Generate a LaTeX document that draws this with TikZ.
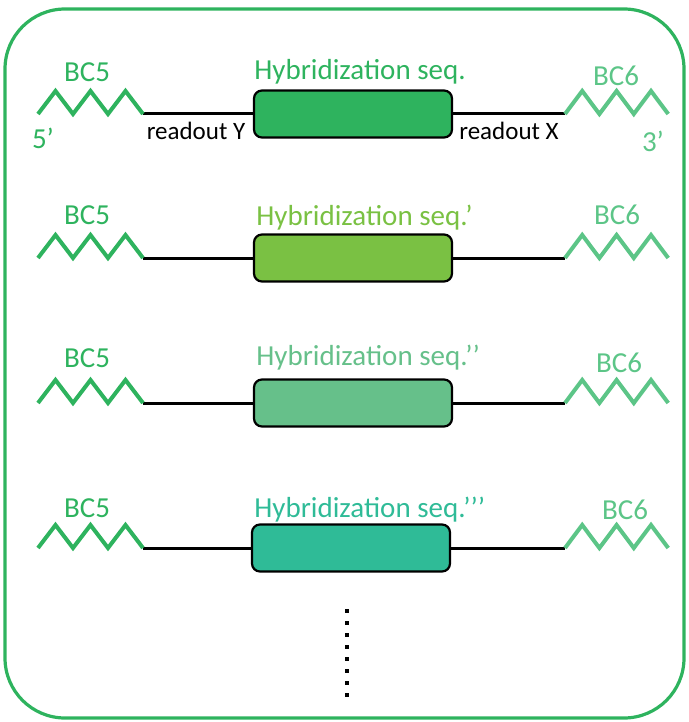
\documentclass[tikz,border=0pt]{standalone}
\usepackage{fontspec}
\setmainfont{Carlito}
\begin{document}
\begin{tikzpicture}[x=0.5pt,y=-0.5pt,
    frame/.style={draw=bcgreen, line width=1.6pt, rounded corners=30pt},
    wire/.style={black, line width=1.5pt},
    bcfive/.style={bcgreen, line width=2pt},
    bcsix/.style={bclight, line width=2pt},
    seqbox/.style={draw=black, line width=1.1pt, rounded corners=4pt,
        minimum width=99pt, minimum height=23.5pt, inner sep=0pt},
    biglabel/.style={font=\fontsize{14.5}{16}\selectfont, inner sep=0pt},
    smalllabel/.style={font=\fontsize{12.5}{14}\selectfont, inner sep=0pt, text=black}]
    % Define colors
    \definecolor{bcgreen}{RGB}{46,179,94}   % barcode BC5 and frame
    \definecolor{bclight}{RGB}{92,197,135}  % barcode BC6
    \definecolor{hyb1}{RGB}{46,179,94}
    \definecolor{hyb2}{RGB}{122,193,67}
    \definecolor{hyb3}{RGB}{102,192,138}
    \definecolor{hyb4}{RGB}{47,187,151}

    % Frame
    \useasboundingbox (0,0) rectangle (689,722);
    \draw[frame] (5,9) rectangle (684,718);

    % Row 1
    \node[seqbox, fill=hyb1] (seq1) at (353,114) {};
    \coordinate (l1) at (143,114);
    \coordinate (r1) at (565,114);
    \draw[wire] (l1) -- (seq1.west);
    \draw[wire] (seq1.east) -- (r1);
    \draw[bcfive, line join=miter] (38,114) -- ++(17.5,-23) -- ++(17.5,23) -- ++(17.5,-23)
        -- ++(17.5,23) -- ++(17.5,-23) -- (l1);
    \draw[bcsix, line join=miter] (r1) -- ++(17.2,-23) -- ++(17.2,23) -- ++(17.2,-23)
        -- ++(17.2,23) -- ++(17.2,-23) -- ++(17.2,23);
    \node[biglabel, text=hyb1, anchor=west] (t1) at (254,72) {Hybridization seq.};
    \node[biglabel, text=bcgreen] (bcl1) at (87,72) {BC5};
    \node[biglabel, text=bclight] (bcr1) at (616,76) {BC6};
    \node[biglabel, text=bcgreen] (five) at (43,138) {5’};
    \node[biglabel, text=bclight] (three) at (653,141) {3’};
    \node[smalllabel] (roy) at (196,131) {readout Y};
    \node[smalllabel] (rox) at (509,131) {readout X};

    % Row 2
    \node[seqbox, fill=hyb2] (seq2) at (353,258) {};
    \coordinate (l2) at (143,258);
    \coordinate (r2) at (565,258);
    \draw[wire] (l2) -- (seq2.west);
    \draw[wire] (seq2.east) -- (r2);
    \draw[bcfive, line join=miter] (38,258) -- ++(17.5,-23) -- ++(17.5,23) -- ++(17.5,-23)
        -- ++(17.5,23) -- ++(17.5,-23) -- (l2);
    \draw[bcsix, line join=miter] (r2) -- ++(17.2,-23) -- ++(17.2,23) -- ++(17.2,-23)
        -- ++(17.2,23) -- ++(17.2,-23) -- ++(17.2,23);
    \node[biglabel, text=hyb2, anchor=west] (t2) at (256,218) {Hybridization seq.’};
    \node[biglabel, text=bcgreen] (bcl2) at (87,215) {BC5};
    \node[biglabel, text=bclight] (bcr2) at (617,215) {BC6};

    % Row 3
    \node[seqbox, fill=hyb3] (seq3) at (353,403) {};
    \coordinate (l3) at (143,403);
    \coordinate (r3) at (565,403);
    \draw[wire] (l3) -- (seq3.west);
    \draw[wire] (seq3.east) -- (r3);
    \draw[bcfive, line join=miter] (38,403) -- ++(17.5,-23) -- ++(17.5,23) -- ++(17.5,-23)
        -- ++(17.5,23) -- ++(17.5,-23) -- (l3);
    \draw[bcsix, line join=miter] (r3) -- ++(17.2,-23) -- ++(17.2,23) -- ++(17.2,-23)
        -- ++(17.2,23) -- ++(17.2,-23) -- ++(17.2,23);
    \node[biglabel, text=hyb3, anchor=west] (t3) at (256,358) {Hybridization seq.’’};
    \node[biglabel, text=bcgreen] (bcl3) at (87,358) {BC5};
    \node[biglabel, text=bclight] (bcr3) at (619,363) {BC6};

    % Row 4
    \node[seqbox, fill=hyb4] (seq4) at (351,548) {};
    \coordinate (l4) at (143,548);
    \coordinate (r4) at (565,548);
    \draw[wire] (l4) -- (seq4.west);
    \draw[wire] (seq4.east) -- (r4);
    \draw[bcfive, line join=miter] (38,548) -- ++(17.5,-23) -- ++(17.5,23) -- ++(17.5,-23)
        -- ++(17.5,23) -- ++(17.5,-23) -- (l4);
    \draw[bcsix, line join=miter] (r4) -- ++(17.2,-23) -- ++(17.2,23) -- ++(17.2,-23)
        -- ++(17.2,23) -- ++(17.2,-23) -- ++(17.2,23);
    \node[biglabel, text=hyb4, anchor=west] (t4) at (254,510) {Hybridization seq.’’’};
    \node[biglabel, text=bcgreen] (bcl4) at (87,508) {BC5};
    \node[biglabel, text=bclight] (bcr4) at (625,510) {BC6};

    % More rows
    \coordinate (dtop) at (347,609);
    \coordinate (dbot) at (347,697);
    \draw[line width=2.2pt, dash pattern=on 2.2pt off 3.8pt] (dtop) -- (dbot);
\end{tikzpicture}
\end{document}
